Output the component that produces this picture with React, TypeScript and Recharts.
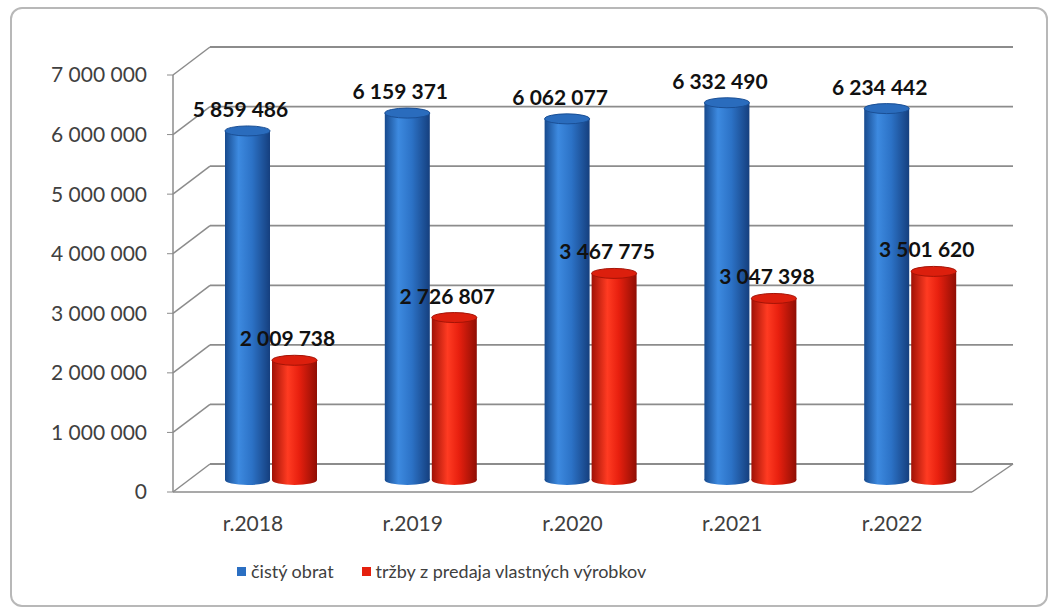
import { Bar, BarChart, CartesianGrid, LabelList, XAxis, YAxis } from "recharts";

const years = ["r.2018", "r.2019", "r.2020", "r.2021", "r.2022"];
const cistyObrat = [5859486, 6159371, 6062077, 6332490, 6234442];
const trzby = [2009738, 2726807, 3467775, 3047398, 3501620];
const seriesNames = ["čistý obrat", "tržby z predaja vlastných výrobkov"];
const yTicks = [0, 1000000, 2000000, 3000000, 4000000, 5000000, 6000000, 7000000];

const data = years.map((year, i) => ({
  year,
  obrat: cistyObrat[i],
  trzby: trzby[i],
}));

const colors = { obrat: "#2b6fc2", trzby: "#e5200e" };

// depth shift for the fake 3D look
const DX = 37;
const DY = 28;
const BAR_DX = 18;
const BAR_DY = 12;

const fmt = (v: number) => v.toString().replace(/\B(?=(\d{3})+(?!\d))/g, " ");

const Cylinder = (props: any) => {
  const { x, y, width, height, gradId, topFill, edge } = props;
  if (!height || height <= 0) return null;
  const cx = x + BAR_DX + width / 2;
  const top = y - BAR_DY;
  const bottom = y + height - BAR_DY;
  const rx = width / 2;
  const ry = 5;
  return (
    <g>
      <ellipse cx={cx} cy={bottom} rx={rx} ry={ry} fill={`url(#${gradId})`} />
      <rect x={x + BAR_DX} y={top} width={width} height={bottom - top} fill={`url(#${gradId})`} />
      <ellipse cx={cx} cy={top} rx={rx} ry={ry} fill={topFill} stroke={edge} strokeWidth={1} />
    </g>
  );
};

const ValueLabel = (props: any) => {
  const { x, y, width, value } = props;
  return (
    <text
      x={x + width / 2 + 11}
      y={y - 26}
      textAnchor="middle"
      fontFamily="Lato, sans-serif"
      fontWeight={700}
      fontSize={21}
      fill="#111"
    >
      {fmt(value)}
    </text>
  );
};

const GridLine = (p: any) => {
  const { x1, y1, x2 } = p;
  return (
    <g key={p.key}>
      <line x1={x1} y1={y1} x2={x1 + DX} y2={y1 - DY} stroke="#8c8c8c" strokeWidth={1.5} />
      <line x1={x1 + DX} y1={y1 - DY} x2={x2 + 41} y2={y1 - DY} stroke="#8c8c8c" strokeWidth={1.8} />
    </g>
  );
};

export default function App() {
  return (
    <div style={{ position: "absolute", left: 0, top: 0, width: 1051, height: 615, background: "#fff" }}>
      <div
        style={{
          position: "absolute",
          left: 10,
          top: 7,
          width: 1034,
          height: 596,
          border: "2px solid #b8b8b8",
          borderRadius: 12,
        }}
      />
      <BarChart
        width={1051}
        height={615}
        data={data}
        margin={{ top: 75, right: 79, bottom: 93, left: 53 }}
        barSize={45}
        barGap={2}
        style={{ position: "absolute", left: 0, top: 0 }}
      >
        <defs>
          <linearGradient id="gBlue" x1="0" y1="0" x2="1" y2="0">
            <stop offset="0" stopColor="#174a8e" />
            <stop offset="0.3" stopColor="#3d8ae0" />
            <stop offset="0.6" stopColor="#2c72c6" />
            <stop offset="1" stopColor="#153f7e" />
          </linearGradient>
          <linearGradient id="gRed" x1="0" y1="0" x2="1" y2="0">
            <stop offset="0" stopColor="#a01206" />
            <stop offset="0.35" stopColor="#ff3b22" />
            <stop offset="0.6" stopColor="#e8200f" />
            <stop offset="1" stopColor="#8f0e04" />
          </linearGradient>
        </defs>
        <CartesianGrid vertical={false} horizontal={GridLine} />
        <XAxis
          dataKey="year"
          height={30}
          axisLine={{ stroke: "#8c8c8c", strokeWidth: 1.5 }}
          tickLine={false}
          tick={{ fontFamily: "Lato, sans-serif", fontSize: 21, fill: "#404040" }}
          tickMargin={18}
        />
        <YAxis
          width={120}
          domain={[0, 7000000]}
          ticks={yTicks}
          tickFormatter={fmt}
          axisLine={{ stroke: "#8c8c8c", strokeWidth: 1.5 }}
          tickLine={{ stroke: "#8c8c8c" }}
          tickSize={6}
          tickMargin={20}
          tick={{ fontFamily: "Lato, sans-serif", fontSize: 21, fill: "#404040" }}
        />
        <Bar
          dataKey="obrat"
          name={seriesNames[0]}
          fill={colors.obrat}
          isAnimationActive={false}
          shape={(p: any) => <Cylinder {...p} gradId="gBlue" topFill="#2a6cbd" edge="#1a4f95" />}
        >
          <LabelList dataKey="obrat" content={ValueLabel} />
        </Bar>
        <Bar
          dataKey="trzby"
          name={seriesNames[1]}
          fill={colors.trzby}
          isAnimationActive={false}
          shape={(p: any) => <Cylinder {...p} gradId="gRed" topFill="#dc1f0d" edge="#a51306" />}
        >
          <LabelList dataKey="trzby" content={ValueLabel} />
        </Bar>
      </BarChart>
      {/* right floor edge */}
      <svg width={1051} height={615} style={{ position: "absolute", left: 0, top: 0, pointerEvents: "none" }}>
        <line x1={972} y1={492} x2={1013} y2={464} stroke="#8c8c8c" strokeWidth={1.5} />
      </svg>
      <div
        style={{
          position: "absolute",
          top: 560,
          left: 237,
          display: "flex",
          gap: 28,
          fontFamily: "Lato, sans-serif",
          fontSize: 18,
          color: "#404040",
          alignItems: "center",
        }}
      >
        {seriesNames.map((name, i) => (
          <div key={name} style={{ display: "flex", alignItems: "center", gap: 5 }}>
            <span
              style={{
                display: "inline-block",
                width: 9,
                height: 9,
                background: i === 0 ? colors.obrat : colors.trzby,
              }}
            />
            {name}
          </div>
        ))}
      </div>
    </div>
  );
}
